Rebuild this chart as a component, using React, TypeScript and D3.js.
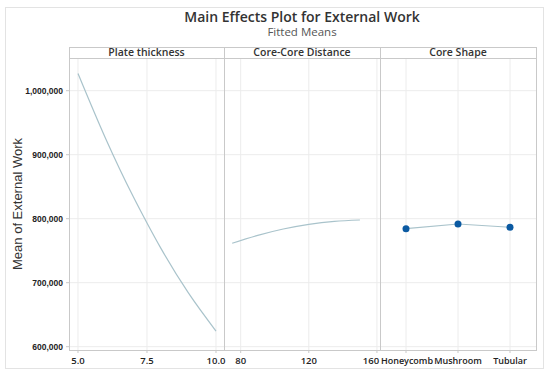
import React from "react";
import * as d3 from "d3";

const yTicks = [600000, 700000, 800000, 900000, 1000000];

const plateX = [5, 6, 7, 7.5, 8, 9, 10];
const plateY = [1027000, 925500, 834600, 793300, 754000, 684000, 624500];
const plateTicks = [5.0, 7.5, 10.0];

const distX = [75, 90, 105, 120, 135, 150];
const distY = [761600, 774000, 783900, 791200, 795900, 798000];
const distTicks = [80, 120, 160];

const shapeCats = ["Honeycomb", "Mushroom", "Tubular"];
const shapeY = [784400, 791700, 786600];

const panelTitles = ["Plate thickness", "Core-Core Distance", "Core Shape"];

const W = 550;
const H = 377;
const top = 58;
const bottom = 350;
const stripTop = 47;
const panels = [69, 224, 380, 536];

const lineColor = "#a9c3cb";
const gridColor = "#ececec";
const borderColor = "#c9c9c9";
const tickFont = "'Open Sans', sans-serif";

export default function App() {
  const y = d3.scaleLinear().domain([594844, 1051094]).range([bottom, top]);
  const x1 = d3.scaleLinear().domain([4.674, 10.29]).range([panels[0], panels[1]]);
  const x2 = d3.scaleLinear().domain([70.2, 161.8]).range([panels[1], panels[2]]);
  const x3 = d3.scalePoint<string>().domain(shapeCats).range([panels[2], panels[3]]).padding(0.5);

  const line1 = d3
    .line<number>()
    .x((_, i) => x1(plateX[i]))
    .y((d) => y(d))
    .curve(d3.curveMonotoneX)(plateY);
  const line2 = d3
    .line<number>()
    .x((_, i) => x2(distX[i]))
    .y((d) => y(d))
    .curve(d3.curveMonotoneX)(distY);
  const line3 = d3
    .line<number>()
    .x((_, i) => x3(shapeCats[i]) as number)
    .y((d) => y(d))(shapeY);

  const fmt = d3.format(",");

  const xGrid: number[] = [
    ...plateTicks.map((t) => x1(t)),
    ...distTicks.map((t) => x2(t)),
    ...shapeCats.map((c) => x3(c) as number),
  ];

  return (
    <svg width={W} height={H} style={{ position: "absolute", left: 0, top: 0, background: "#fff" }}>
      <rect x={5.5} y={7.5} width={538} height={361} fill="#fff" stroke="#e3e3e3" />
      <text
        x={302}
        y={21.5}
        textAnchor="middle"
        fontFamily="'Open Sans', sans-serif"
        fontWeight={600}
        fontSize={14}
        fill="#333"
      >
        Main Effects Plot for External Work
      </text>
      <text
        x={302}
        y={36}
        textAnchor="middle"
        fontFamily="'Open Sans', sans-serif"
        fontSize={11.5}
        fill="#555"
      >
        Fitted Means
      </text>
      <text
        transform={`translate(22,${(top + bottom) / 2}) rotate(-90)`}
        textAnchor="middle"
        fontFamily="'Liberation Sans', Arial, sans-serif"
        fontSize={13}
        fill="#333"
      >
        Mean of External Work
      </text>

      {/* horizontal grid */}
      {yTicks.map((t) => (
        <line key={"hg" + t} x1={panels[0]} x2={panels[3]} y1={y(t)} y2={y(t)} stroke={gridColor} />
      ))}
      {/* vertical grid */}
      {xGrid.map((gx, i) => (
        <line key={"vg" + i} x1={gx} x2={gx} y1={top} y2={bottom} stroke={gridColor} />
      ))}

      {/* strips & panel borders */}
      {panelTitles.map((t, i) => (
        <g key={t}>
          <rect
            x={panels[i] + 0.5}
            y={stripTop + 0.5}
            width={panels[i + 1] - panels[i]}
            height={top - stripTop}
            fill="#fff"
            stroke={borderColor}
          />
          <text
            x={(panels[i] + panels[i + 1]) / 2}
            y={stripTop + 9}
            textAnchor="middle"
            fontFamily="'Open Sans', sans-serif"
            fontWeight={600}
            fontSize={10.5}
            fill="#333"
          >
            {t}
          </text>
          <rect
            x={panels[i] + 0.5}
            y={top + 0.5}
            width={panels[i + 1] - panels[i]}
            height={bottom - top}
            fill="none"
            stroke={borderColor}
          />
        </g>
      ))}

      {/* y ticks */}
      {yTicks.map((t) => (
        <g key={"yt" + t}>
          <line x1={panels[0] - 3} x2={panels[0]} y1={y(t)} y2={y(t)} stroke={borderColor} />
          <text
            x={63}
            y={y(t)}
            dy="0.35em"
            textAnchor="end"
            fontFamily="'Liberation Sans', Arial, sans-serif"
            fontWeight={700}
            fontSize={8.5}
            fill="#222"
          >
            {fmt(t)}
          </text>
        </g>
      ))}

      {/* x ticks */}
      {plateTicks.map((t) => (
        <g key={"p" + t}>
          <line x1={x1(t)} x2={x1(t)} y1={bottom} y2={bottom + 3} stroke={borderColor} />
          <text x={x1(t)} y={364} textAnchor="middle" fontFamily={tickFont} fontWeight={600} fontSize={9.5} fill="#222">
            {d3.format(".1f")(t)}
          </text>
        </g>
      ))}
      {distTicks.map((t) => (
        <g key={"d" + t}>
          <line x1={x2(t)} x2={x2(t)} y1={bottom} y2={bottom + 3} stroke={borderColor} />
          <text
            x={t === 160 ? x2(t) - 6 : x2(t)}
            y={364}
            textAnchor="middle"
            fontFamily={tickFont}
            fontWeight={600}
            fontSize={9.5}
            fill="#222"
          >
            {t}
          </text>
        </g>
      ))}
      {shapeCats.map((c) => (
        <g key={"s" + c}>
          <line x1={x3(c)} x2={x3(c)} y1={bottom} y2={bottom + 3} stroke={borderColor} />
          <text
            x={c === "Honeycomb" ? (x3(c) as number) + 1 : x3(c)}
            y={364}
            textAnchor="middle"
            fontFamily={tickFont}
            fontWeight={600}
            fontSize={9}
            fill="#222"
          >
            {c}
          </text>
        </g>
      ))}

      {/* data */}
      <path d={line1 || ""} fill="none" stroke={lineColor} strokeWidth={1.2} />
      <path d={line2 || ""} fill="none" stroke={lineColor} strokeWidth={1.2} />
      <path d={line3 || ""} fill="none" stroke={lineColor} strokeWidth={1.2} />
      {shapeY.map((v, i) => (
        <circle key={"pt" + i} cx={x3(shapeCats[i])} cy={y(v)} r={3.5} fill="#0b5aa2" />
      ))}
    </svg>
  );
}
